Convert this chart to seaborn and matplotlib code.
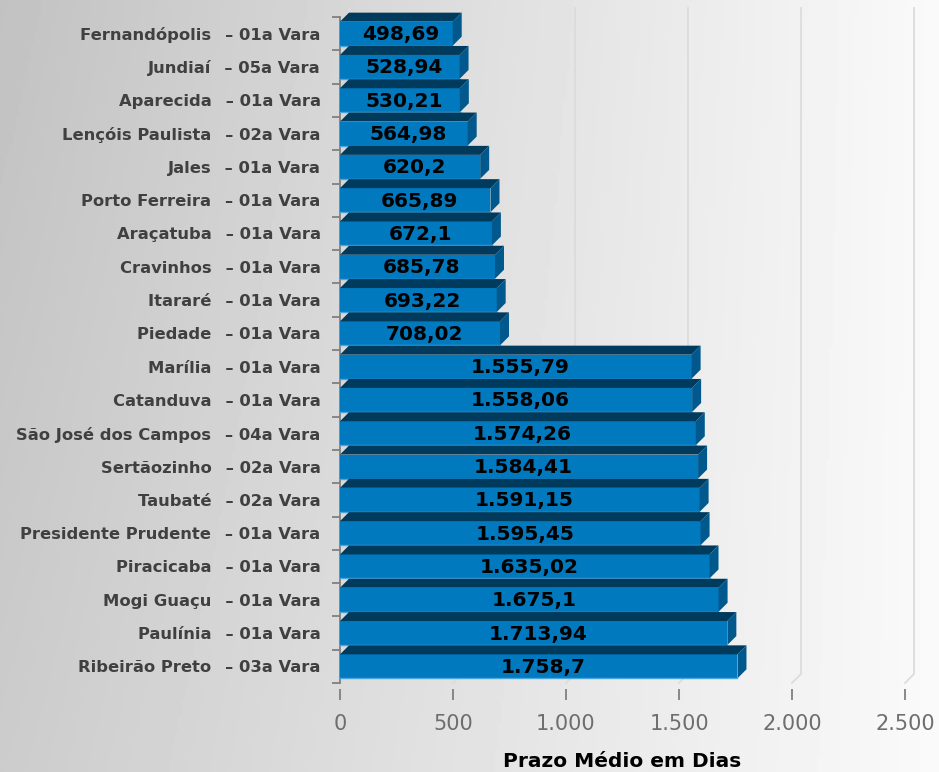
import numpy as np
import pandas as pd
import matplotlib
matplotlib.use("Agg")
import matplotlib.pyplot as plt
from matplotlib.patches import Polygon
from matplotlib.ticker import FuncFormatter, FixedLocator
import seaborn as sns

plt.rcParams["font.family"] = ["DejaVu Sans"]

comarcas = ["Fernandópolis", "Jundiaí", "Aparecida", "Lençóis Paulista", "Jales",
            "Porto Ferreira", "Araçatuba", "Cravinhos", "Itararé", "Piedade",
            "Marília", "Catanduva", "São José dos Campos", "Sertãozinho", "Taubaté",
            "Presidente Prudente", "Piracicaba", "Mogi Guaçu", "Paulínia", "Ribeirão Preto"]
varas = ["01a Vara", "05a Vara", "01a Vara", "02a Vara", "01a Vara",
         "01a Vara", "01a Vara", "01a Vara", "01a Vara", "01a Vara",
         "01a Vara", "01a Vara", "04a Vara", "02a Vara", "02a Vara",
         "01a Vara", "01a Vara", "01a Vara", "01a Vara", "03a Vara"]
prazo = [498.69, 528.94, 530.21, 564.98, 620.2, 665.89, 672.1, 685.78, 693.22, 708.02,
         1555.79, 1558.06, 1574.26, 1584.41, 1591.15, 1595.45, 1635.02, 1675.1, 1713.94, 1758.7]

labels = [f"{c}\u2002 – {v}" for c, v in zip(comarcas, varas)]
df = pd.DataFrame({"label": labels, "prazo": prazo})


def br(v, dec=2):
    s = f"{v:,.{dec}f}"
    if dec:
        s = s.rstrip("0").rstrip(".")
    return s.replace(",", "X").replace(".", ",").replace("X", ".")


front = "#0079bf"
top_c = "#003a5c"
side_c = "#00588c"

fig = plt.figure(figsize=(9.39, 7.72), dpi=100)

# gradient background
bg = fig.add_axes([0, 0, 1, 1], zorder=-10)
gx = np.linspace(0, 1, 300)
gy = np.linspace(0, 1, 250)
GX, GY = np.meshgrid(gx, gy)
G = 0.76 + 0.22 * GX + 0.04 * GY * (1 - GX)
bg.imshow(G, cmap="gray", vmin=0, vmax=1, aspect="auto", extent=[0, 1, 0, 1], origin="upper")
bg.axis("off")

ax = fig.add_axes([340 / 939, 1 - 683 / 772, 565 / 939, 666 / 772])
ax.set_facecolor("none")

sns.barplot(data=df, x="prazo", y="label", orient="h", color=front, width=0.72,
            saturation=1, ax=ax, zorder=3)

ax.set_xlim(0, 2500)
ax.set_ylim(19.5, -0.5)

dx = 9 * 2500 / 565
dy = 9 / 33.3

# back wall grid
for t in range(0, 2501, 500):
    ax.plot([t, t + dx, t + dx], [19.5, 19.5 - dy, -0.5 - dy], color="#dcdcdc",
            lw=1.3, zorder=1, clip_on=False)

for i, p in enumerate(ax.patches):
    x0, y0 = p.get_x(), p.get_y()
    w, h = p.get_width(), p.get_height()
    x1, y1 = x0 + w, y0 + h
    z = 3 + i * 0.1
    p.set_zorder(z)
    ax.add_patch(Polygon([(x0, y0), (x0 + dx, y0 - dy), (x1 + dx, y0 - dy), (x1, y0)],
                         closed=True, facecolor=top_c, edgecolor="none", zorder=z, clip_on=False))
    ax.add_patch(Polygon([(x1, y0), (x1 + dx, y0 - dy), (x1 + dx, y1 - dy), (x1, y1)],
                         closed=True, facecolor=side_c, edgecolor="none", zorder=z, clip_on=False))
    ax.plot([x0, x1], [y1, y1], color="#4aa6dc", lw=1, zorder=z + 0.01)
    ax.text((x0 + x1 + dx) / 2, y0 + h / 2 + 0.03, br(w), ha="center", va="center",
            fontsize=14.5, fontweight="bold", color="black", zorder=z + 0.05)

ax.set_ylabel("")
ax.set_xlabel("Prazo Médio em Dias", fontsize=14.5, fontweight="bold", color="black", labelpad=13)
ax.xaxis.set_major_locator(FixedLocator([0, 500, 1000, 1500, 2000, 2500]))
ax.xaxis.set_major_formatter(FuncFormatter(lambda v, pos: br(v, 0)))
ax.tick_params(axis="x", length=8, width=1.3, color="#808080", labelsize=15,
               labelcolor="#6e6e6e", pad=10)
ax.tick_params(axis="y", which="major", length=0, pad=14, labelsize=11.8, labelcolor="#404040")
ax.yaxis.set_minor_locator(FixedLocator(np.arange(-0.5, 20, 1)))
ax.tick_params(axis="y", which="minor", length=6, width=1.3, color="#808080")
for t in ax.get_yticklabels():
    t.set_fontweight("bold")

for s in ["top", "right"]:
    ax.spines[s].set_visible(False)
ax.spines["bottom"].set_color("none")
ax.spines["bottom"].set_position(("outward", 4))
ax.spines["left"].set_color("#808080")
ax.spines["left"].set_linewidth(1.3)
ax.grid(False)

fig.savefig("out.png", dpi=100)
